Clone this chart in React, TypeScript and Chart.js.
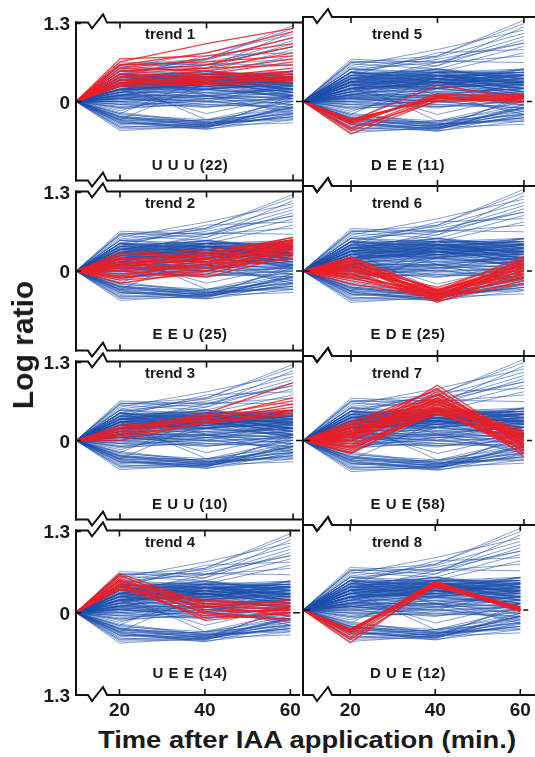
import React, { useEffect, useRef } from "react";
import { Chart, registerables } from "chart.js";

Chart.register(...registerables);

// time points (min). The first one (0 min) sits on the broken part of the axis.
const timePoints = [0, 20, 40, 60];
const xTickLabels = ["20", "40", "60"];
const yTickValues = [-1.3, 0, 1.3];

// all genes: log ratio at 20, 40 and 60 min (0 at 0 min)
const allGenes: number[][] = [
  [0.6, 0.7, 1.2], [0.55, 0.8, 1.1], [0.5, 0.6, 1.0], [0.62, 0.55, 0.95], [0.45, 0.65, 0.9],
  [0.58, 0.5, 0.85], [0.4, 0.75, 0.8], [0.65, 0.6, 0.7], [0.35, 0.55, 1.15], [0.5, 0.45, 0.75],
  [0.3, 0.6, 0.9], [0.6, 0.62, 0.6], [0.52, 0.68, 1.05], [0.46, 0.7, 1.25],
  [0.4, 0.45, 0.5], [0.35, 0.4, 0.45], [0.3, 0.45, 0.4], [0.45, 0.4, 0.35], [0.25, 0.35, 0.45],
  [0.4, 0.5, 0.3], [0.2, 0.3, 0.4], [0.3, 0.35, 0.3], [0.35, 0.3, 0.5], [0.25, 0.4, 0.25],
  [0.15, 0.3, 0.35], [0.45, 0.35, 0.4], [0.2, 0.25, 0.3], [0.3, 0.4, 0.2], [0.1, 0.2, 0.3],
  [0.35, 0.45, 0.15], [0.25, 0.3, 0.2], [0.15, 0.25, 0.25], [0.4, 0.3, 0.25], [0.2, 0.35, 0.5],
  [0.1, 0.25, 0.4], [0.3, 0.25, 0.35], [0.05, 0.15, 0.2], [0.25, 0.2, 0.1], [0.15, 0.4, 0.3],
  [0.35, 0.5, 0.4], [0.45, 0.45, 0.45], [0.2, 0.2, 0.15], [0.3, 0.3, 0.1], [0.1, 0.3, 0.15],
  [0.4, 0.35, 0.2], [0.05, 0.2, 0.35], [0.2, 0.4, 0.45], [0.35, 0.25, 0.05], [0.15, 0.15, 0.1],
  [0.25, 0.45, 0.35], [0.3, 0.2, 0.3], [0.1, 0.1, 0.2], [0.4, 0.4, 0.4], [0.2, 0.3, 0.05],
  [0.5, 0.4, 0.3], [0.15, 0.35, 0.2], [0.3, 0.5, 0.35], [0.05, 0.1, 0.05], [0.25, 0.25, 0.4],
  [0.35, 0.35, 0.25], [0.1, 0.35, 0.1], [0.2, 0.45, 0.25], [0.45, 0.3, 0.15], [0.3, 0.38, 0.45],
  [0.28, 0.33, 0.38], [0.18, 0.28, 0.33], [0.38, 0.42, 0.32], [0.22, 0.38, 0.28], [0.32, 0.28, 0.42],
  [0.12, 0.22, 0.18], [0.42, 0.48, 0.36], [0.27, 0.36, 0.22], [0.17, 0.32, 0.42], [0.37, 0.33, 0.3],
  [0.08, 0.18, 0.12], [0.24, 0.22, 0.26], [0.33, 0.43, 0.48], [0.14, 0.2, 0.08], [0.44, 0.38, 0.28],
  [0.21, 0.27, 0.36], [0.31, 0.41, 0.27], [0.26, 0.31, 0.15], [0.36, 0.46, 0.42], [0.19, 0.24, 0.21],
  [0.0, 0.05, 0.1], [-0.05, 0.0, 0.05], [0.05, -0.05, 0.0], [0.0, 0.1, -0.05], [-0.1, 0.05, 0.15],
  [0.08, 0.0, -0.1], [-0.05, -0.08, 0.0], [0.02, 0.12, 0.2], [-0.08, 0.02, -0.15], [0.1, 0.05, -0.05],
  [0.0, -0.1, 0.1], [-0.02, 0.08, 0.25], [0.05, 0.0, 0.3], [-0.1, -0.05, -0.1], [0.12, 0.08, 0.0],
  [0.03, 0.08, 0.15], [-0.04, 0.04, 0.08], [0.07, 0.14, 0.02], [-0.12, -0.02, 0.05], [0.06, -0.08, -0.05],
  [-0.3, -0.35, -0.2], [-0.25, -0.4, -0.1], [-0.35, -0.38, -0.25], [-0.4, -0.45, -0.3], [-0.28, -0.32, -0.05],
  [-0.45, -0.42, -0.15], [-0.2, -0.35, -0.3], [-0.32, -0.46, -0.2], [-0.38, -0.3, 0.0], [-0.27, -0.4, -0.35],
  [-0.42, -0.36, -0.1], [-0.22, -0.3, -0.2], [-0.35, -0.44, -0.05], [-0.3, -0.38, 0.05], [-0.48, -0.4, -0.25],
  [-0.25, -0.33, -0.15], [-0.33, -0.42, 0.1], [-0.18, -0.34, -0.28],
  [-0.26, -0.37, -0.12], [-0.36, -0.41, -0.22], [-0.31, -0.43, -0.08], [-0.43, -0.39, -0.18], [-0.24, -0.36, -0.25],
  [0.3, -0.3, -0.1], [-0.3, 0.3, 0.2], [0.2, -0.2, 0.1], [-0.2, 0.4, 0.4], [0.45, 0.1, -0.2], [-0.15, 0.2, 0.5],
];

const trend1: number[][] = [
  [0.65, 0.95, 1.2], [0.6, 0.8, 1.15], [0.55, 0.7, 1.05], [0.7, 0.75, 0.95], [0.5, 0.6, 0.9],
  [0.45, 0.55, 0.8], [0.6, 0.65, 0.75], [0.4, 0.5, 0.7], [0.35, 0.45, 0.65], [0.5, 0.55, 0.6],
  [0.3, 0.4, 0.55], [0.45, 0.4, 0.5], [0.35, 0.35, 0.5], [0.3, 0.35, 0.45], [0.4, 0.45, 0.45],
  [0.25, 0.3, 0.4], [0.3, 0.35, 0.4], [0.35, 0.3, 0.35], [0.28, 0.32, 0.35], [0.25, 0.28, 0.3],
  [0.55, 0.5, 0.4], [0.4, 0.38, 0.38],
];
const trend2: number[][] = [
  [0.2, 0.25, 0.55], [0.1, 0.2, 0.5], [0.25, 0.3, 0.5], [0.0, 0.1, 0.45], [0.15, 0.15, 0.45],
  [-0.1, 0.0, 0.4], [0.3, 0.2, 0.48], [0.05, 0.05, 0.35], [-0.05, 0.1, 0.4], [0.12, 0.25, 0.42],
  [0.2, 0.1, 0.3], [-0.15, -0.05, 0.3], [0.08, 0.18, 0.52], [0.18, 0.3, 0.45], [-0.2, 0.0, 0.35],
  [0.0, -0.1, 0.25], [0.1, 0.05, 0.38], [0.22, 0.15, 0.4], [-0.08, 0.12, 0.47], [0.05, 0.22, 0.36],
  [0.15, 0.0, 0.28], [0.28, 0.35, 0.5], [-0.12, 0.05, 0.2], [0.02, 0.15, 0.43], [0.1, 0.28, 0.55],
];
const trend3: number[][] = [
  [0.2, 0.45, 0.95], [0.15, 0.4, 0.65], [0.25, 0.35, 0.6], [0.05, 0.3, 0.5], [0.1, 0.35, 0.55],
  [0.0, 0.3, 0.45], [0.18, 0.42, 0.5], [0.08, 0.28, 0.42], [0.12, 0.38, 0.7], [0.22, 0.32, 0.48],
];
const trend4: number[][] = [
  [0.62, 0.15, 0.1], [0.55, 0.05, 0.0], [0.5, 0.2, 0.15], [0.45, 0.0, -0.1], [0.4, 0.1, 0.05],
  [0.38, -0.05, 0.08], [0.58, 0.12, -0.05], [0.48, -0.12, 0.0], [0.42, 0.08, 0.2], [0.52, -0.02, -0.12],
  [0.36, 0.18, 0.12], [0.6, 0.02, 0.04], [0.44, -0.08, -0.02], [0.5, 0.14, 0.06],
];
const trend5: number[][] = [
  [-0.3, 0.25, 0.05], [-0.32, 0.08, 0.02], [-0.28, 0.05, 0.08], [-0.45, 0.05, 0.0], [-0.5, 0.02, 0.05],
  [-0.35, 0.1, 0.1], [-0.3, 0.06, -0.02], [-0.4, 0.0, 0.04], [-0.27, 0.04, 0.12], [-0.33, 0.12, 0.06],
  [-0.42, 0.08, 0.0],
];
const trend6: number[][] = [
  [0.15, -0.3, 0.1], [0.1, -0.35, 0.0], [0.05, -0.4, -0.1], [0.0, -0.45, 0.15], [-0.05, -0.38, 0.05],
  [0.12, -0.28, -0.05], [-0.1, -0.42, 0.2], [0.2, -0.32, 0.12], [0.08, -0.46, -0.15], [-0.15, -0.35, 0.0],
  [0.03, -0.3, 0.08], [0.18, -0.4, 0.18], [-0.08, -0.33, -0.08], [0.1, -0.44, 0.02], [0.0, -0.28, 0.1],
  [-0.2, -0.4, -0.2], [0.14, -0.36, 0.06], [0.06, -0.25, 0.15], [-0.03, -0.48, -0.02], [0.22, -0.3, 0.22],
  [-0.12, -0.3, 0.04], [0.09, -0.38, -0.12], [0.16, -0.42, 0.1], [-0.06, -0.36, 0.12], [0.02, -0.32, -0.05],
];
const trend7: number[][] = [
  [0.1, 0.6, 0.0], [0.2, 0.8, -0.1], [0.0, 0.5, 0.05], [-0.1, 0.45, -0.15], [0.25, 0.7, 0.1],
  [0.05, 0.85, -0.05], [-0.2, 0.5, -0.2], [0.15, 0.55, 0.12], [0.3, 0.65, 0.0], [-0.05, 0.4, 0.08],
  [0.1, 0.75, -0.25], [0.2, 0.5, -0.08], [0.0, 0.6, 0.15], [-0.15, 0.55, 0.0], [0.12, 0.45, -0.12],
  [0.22, 0.62, 0.05], [0.05, 0.7, -0.18], [-0.08, 0.48, 0.1], [0.18, 0.58, -0.02], [0.08, 0.52, 0.02],
  [0.28, 0.78, -0.1], [-0.12, 0.42, -0.05], [0.02, 0.66, 0.06], [0.15, 0.48, -0.15], [-0.02, 0.56, 0.12],
  [0.1, 0.44, -0.03], [0.24, 0.6, 0.08], [-0.18, 0.46, -0.1], [0.06, 0.72, 0.0], [0.14, 0.64, -0.06],
];
const trend8: number[][] = [
  [-0.3, 0.4, 0.02], [-0.32, 0.38, 0.0], [-0.35, 0.42, 0.04], [-0.45, 0.36, 0.0], [-0.5, 0.4, -0.02],
  [-0.3, 0.35, 0.05], [-0.33, 0.44, 0.02], [-0.38, 0.39, -0.03], [-0.31, 0.37, 0.03], [-0.42, 0.41, 0.01],
  [-0.34, 0.43, -0.01], [-0.29, 0.38, 0.02],
];

const trendSeries = [trend1, trend2, trend3, trend4, trend5, trend6, trend7, trend8];
const trendTitles = ["trend 1", "trend 2", "trend 3", "trend 4", "trend 5", "trend 6", "trend 7", "trend 8"];
const trendCodes = ["U U U (22)", "E E U (25)", "E U U (10)", "U E E (14)", "D E E (11)", "E D E (25)", "E U E (58)", "D U E (12)"];

const FONT = "'Liberation Sans', Arial, Helvetica, sans-serif";
const panelTops = [17, 186, 356, 525, 695];
const columns = [
  { canvasLeft: 0, width: 305, padL: 0, padR: 2, axisW: 76, xMin: 9.83, xMax: 62.3, brk: 12, titleX: 170, codeX: 190 },
  { canvasLeft: 300, width: 235, padL: 3, padR: 5, axisW: 0, xMin: 8.9, xMax: 61.4, brk: 10, titleX: 397, codeX: 408 },
];

const framePlugin = {
  id: "frame",
  afterDraw(chart: any, _args: any, opts: any) {
    const { ctx, chartArea, scales } = chart;
    const { left, right, top, bottom } = chartArea;
    const col = opts.col as number;
    const brk = opts.brk as number;
    const extRight = col === 1 ? chart.width : right;
    ctx.save();
    ctx.strokeStyle = "#111";
    ctx.lineWidth = 2;
    ctx.lineJoin = "miter";
    ctx.beginPath();
    ctx.moveTo(left, top - 1);
    ctx.lineTo(left, bottom + 1);
    ctx.stroke();
    const hline = (y: number) => {
      const a = left + brk;
      ctx.beginPath();
      ctx.moveTo(left - 1, y);
      ctx.lineTo(a, y);
      ctx.lineTo(a + 4, y + 6);
      ctx.lineTo(a + 15, y - 8);
      ctx.lineTo(a + 19, y);
      ctx.lineTo(extRight, y);
      ctx.stroke();
    };
    hline(top);
    hline(bottom);
    ctx.lineWidth = 1.6;
    ctx.beginPath();
    for (const l of xTickLabels) {
      const px = scales.x.getPixelForValue(Number(l));
      ctx.moveTo(px, top);
      ctx.lineTo(px, top + 6);
      ctx.moveTo(px, bottom);
      ctx.lineTo(px, bottom - 6);
    }
    const z = scales.y.getPixelForValue(0);
    const t = scales.y.getPixelForValue(1.3);
    if (col === 0) {
      ctx.moveTo(left, z);
      ctx.lineTo(left + 5, z);
      ctx.moveTo(left, t + 1);
      ctx.lineTo(left + 5, t + 1);
      ctx.moveTo(right - 7, z);
      ctx.lineTo(right, z);
    } else {
      ctx.moveTo(left, z);
      ctx.lineTo(left + 7, z);
      ctx.moveTo(right - 3, z);
      ctx.lineTo(right + 2, z);
    }
    ctx.stroke();
    ctx.restore();
  },
};

function toPoints(vals: number[], xMin: number) {
  return timePoints.map((t, k) => ({ x: t === 0 ? xMin : t, y: k === 0 ? 0 : vals[k - 1] }));
}

function Panel({ col, row }: { col: number; row: number }) {
  const ref = useRef<HTMLCanvasElement>(null);
  const c = columns[col];
  const isBottom = row === 3;
  const h = panelTops[row + 1] - panelTops[row];
  const cTop = panelTops[row] - 12;
  const cH = h + 12 + (isBottom ? 30 : 12);
  const idx = col * 4 + row;

  useEffect(() => {
    const red = trendSeries[idx].map((v) => ({
      data: toPoints(v, c.xMin),
      borderColor: "rgba(236,30,38,0.85)",
      borderWidth: 1.3,
      pointRadius: 0,
      tension: 0,
      order: 0,
    }));
    const blue = allGenes.map((v) => ({
      data: toPoints(v, c.xMin),
      borderColor: "rgba(28,78,172,0.55)",
      borderWidth: 1,
      pointRadius: 0,
      tension: 0,
      order: 1,
    }));
    const tickFont = { family: FONT, size: 19, weight: "bold" as const };
    const chart = new Chart(ref.current!, {
      type: "line",
      data: { datasets: [...red, ...blue] as any },
      options: {
        animation: false,
        responsive: false,
        events: [],
        layout: { padding: { top: 12, bottom: isBottom ? 0 : 12, left: c.padL, right: c.padR } },
        plugins: {
          legend: { display: false },
          tooltip: { enabled: false },
          frame: { col, brk: c.brk },
        } as any,
        scales: {
          x: {
            type: "linear",
            min: c.xMin,
            max: c.xMax,
            display: isBottom,
            grid: { display: false, drawTicks: false },
            border: { display: false },
            afterBuildTicks: (s: any) => {
              s.ticks = xTickLabels.map((l) => ({ value: Number(l) }));
            },
            afterFit: (s: any) => {
              s.height = isBottom ? 30 : 0;
            },
            ticks: {
              padding: 4,
              autoSkip: false,
              maxRotation: 0,
              color: "#1a1a1a",
              font: tickFont,
              callback: (v: any) => String(v),
            },
          },
          y: {
            type: "linear",
            min: -1.3,
            max: 1.3,
            display: col === 0,
            position: "left",
            grid: { display: false, drawTicks: false },
            border: { display: false },
            afterBuildTicks: (s: any) => {
              s.ticks = yTickValues.map((v) => ({ value: v }));
            },
            afterFit: (s: any) => {
              s.width = c.axisW;
            },
            ticks: {
              padding: 6,
              autoSkip: false,
              labelOffset: 2,
              color: "#1a1a1a",
              font: tickFont,
              callback: (v: any) => (v === 0 ? "0" : v < 0 && !isBottom ? "" : "1.3"),
            },
          },
        },
      } as any,
      plugins: [framePlugin as any],
    });
    return () => chart.destroy();
  }, []);

  return (
    <canvas
      ref={ref}
      width={c.width}
      height={cH}
      style={{ position: "absolute", left: c.canvasLeft, top: cTop, width: c.width, height: cH }}
    />
  );
}

const labelStyle: React.CSSProperties = {
  position: "absolute",
  fontFamily: FONT,
  fontWeight: "bold",
  color: "#1a1a1a",
  whiteSpace: "nowrap",
  lineHeight: 1,
  transform: "translate(-50%, -50%)",
};

export default function App() {
  const panels: React.ReactNode[] = [];
  const texts: React.ReactNode[] = [];
  for (let col = 0; col < 2; col++) {
    for (let row = 0; row < 4; row++) {
      const idx = col * 4 + row;
      panels.push(<Panel key={"p" + idx} col={col} row={row} />);
      const top = panelTops[row];
      texts.push(
        <div key={"t" + idx} style={{ ...labelStyle, left: columns[col].titleX, top: top + 15.5, fontSize: 15 }}>
          {trendTitles[idx]}
        </div>
      );
      texts.push(
        <div
          key={"c" + idx}
          style={{ ...labelStyle, left: columns[col].codeX, top: top + 146.5, fontSize: 15, letterSpacing: "0.5px" }}
        >
          {trendCodes[idx]}
        </div>
      );
    }
  }
  return (
    <div style={{ position: "absolute", left: 0, top: 0, width: 535, height: 757, background: "#fff", overflow: "hidden" }}>
      {panels}
      {texts}
      <div style={{ ...labelStyle, left: 23, top: 345, fontSize: 30, transform: "translate(-50%, -50%) rotate(-90deg)" }}>
        Log ratio
      </div>
      <div style={{ ...labelStyle, left: 307, top: 740, fontSize: 24, transform: "translate(-50%, -50%) scaleX(1.14)" }}>
        Time after IAA application (min.)
      </div>
    </div>
  );
}
